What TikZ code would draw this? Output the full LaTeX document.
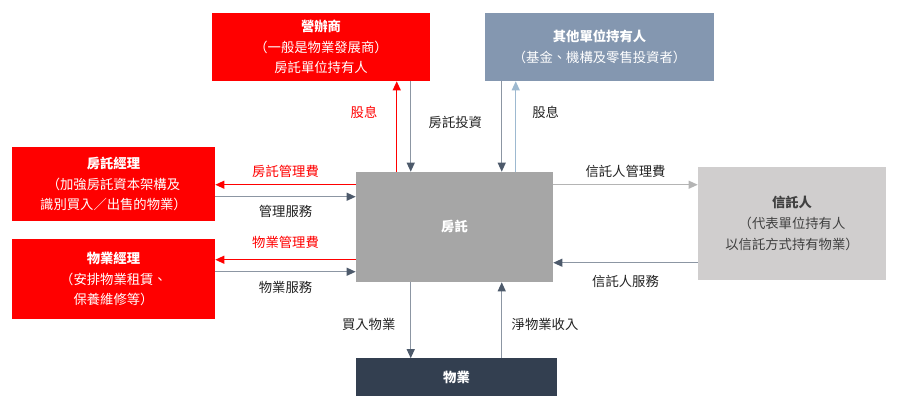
\documentclass[tikz,border=0pt]{standalone}
\usepackage{fontspec}
\setmainfont{Noto Sans CJK TC}
\usetikzlibrary{positioning,arrows.meta,calc}
\definecolor{reitred}{HTML}{FF0000}
\definecolor{slatefill}{HTML}{8497B0}
\definecolor{reitgray}{HTML}{A6A6A6}
\definecolor{trustgray}{HTML}{D0CECE}
\definecolor{propnavy}{HTML}{333F50}
\definecolor{flowline}{HTML}{8C96A3}
\definecolor{flowhead}{HTML}{4D5A6B}
\definecolor{flowblue}{HTML}{9DB9D0}
\definecolor{flowlight}{HTML}{B4B4B4}
\definecolor{trusttext}{HTML}{404040}
\definecolor{labtext}{HTML}{222222}

\begin{document}
\begin{tikzpicture}[
  x=0.75pt, y=-0.75pt,
  ebox/.style={align=center, inner sep=2pt, font=\fontsize{10}{15.5}\selectfont, text=white},
  redbox/.style={ebox, fill=reitred},
  slatebox/.style={ebox, fill=slatefill},
  reitbox/.style={ebox, fill=reitgray},
  trustbox/.style={ebox, fill=trustgray, text=trusttext},
  propbox/.style={ebox, fill=propnavy},
  flow/.style={-{Triangle[length=2.4mm, width=2.1mm, color=flowhead]}, draw=flowline, line width=1pt},
  flowred/.style={flow, -{Triangle[length=2.4mm, width=2.1mm, color=reitred]}, draw=reitred},
  flowblue/.style={flow, -{Triangle[length=2.4mm, width=2.1mm, color=flowblue]}, draw=flowblue},
  flowlight/.style={flow, -{Triangle[length=2.4mm, width=2.1mm, color=flowlight]}, draw=flowlight},
  lab/.style={font=\fontsize{10}{12}\selectfont, text=labtext, inner sep=1pt},
  labred/.style={lab, text=reitred}
]
\useasboundingbox (0,0) rectangle (904,413);

% parties
\node[redbox, minimum width=163.5pt, minimum height=51pt] (sponsor) at (321,47)
  {\textbf{營辦商}\\（一般是物業發展商）\\房託單位持有人};
\node[slatebox, minimum width=171.75pt, minimum height=51pt] (others) at (599.5,47)
  {\textbf{其他單位持有人}\\（基金、機構及零售投資者）};
\node[redbox, minimum width=152.25pt, minimum height=55.5pt] (rmgr) at (113.5,184)
  {\textbf{房託經理}\\（加強房託資本架構及\\識別買入／出售的物業）};
\node[redbox, minimum width=152.25pt, minimum height=60pt] (pmgr) at (113.5,279)
  {\textbf{物業經理}\\（安排物業租賃、\\保養維修等）};
\node[reitbox, minimum width=147.75pt, minimum height=82.5pt] (reit) at (454.5,227) {\textbf{房託}};
\node[trustbox, minimum width=141pt, minimum height=84.75pt] (trustee) at (792,223.5)
  {\textbf{信託人}\\（代表單位持有人\\以信託方式持有物業）};
\node[propbox, minimum width=150.75pt, minimum height=28.5pt] (prop) at (456.5,377.5) {\textbf{物業}};

% anchor points on the REIT box
\path (reit.north west) ++(41,0)  coordinate (d1)
      (reit.north west) ++(55,0)  coordinate (i1)
      (reit.north west) ++(146,0) coordinate (i2)
      (reit.north west) ++(160,0) coordinate (d2)
      (reit.north west) ++(0,13)  coordinate (f1)
      (reit.north west) ++(0,25)  coordinate (s1)
      (reit.north west) ++(0,88)  coordinate (f2)
      (reit.north west) ++(0,100) coordinate (s2)
      (reit.north east) ++(0,13)  coordinate (t1)
      (reit.north east) ++(0,91)  coordinate (t2);

% unitholders
\draw[flowred] (d1) -- (d1 |- sponsor.south) node[labred, pos=0.66, left=13pt] {股息};
\draw[flow] (i1 |- sponsor.south) -- (i1) node[lab, pos=0.45, right=12pt] {房託投資};
\draw[flow] (i2 |- others.south) -- (i2);
\draw[flowblue] (d2) -- (d2 |- others.south) node[lab, pos=0.66, right=11pt] {股息};

% managers
\draw[flowred] (f1) -- (f1 -| rmgr.east) node[labred, midway, above=4pt] {房託管理費};
\draw[flow] (s1 -| rmgr.east) -- (s1) node[lab, midway, below=5pt] {管理服務};
\draw[flowred] (f2) -- (f2 -| pmgr.east) node[labred, midway, above=7pt] {物業管理費};
\draw[flow] (s2 -| pmgr.east) -- (s2) node[lab, midway, below=6pt] {物業服務};

% trustee
\draw[flowlight] (t1) -- (t1 -| trustee.west) node[lab, midway, above=4pt] {信託人管理費};
\draw[flow] (t2 -| trustee.west) -- (t2) node[lab, midway, below=8pt] {信託人服務};

% properties
\draw[flow] (i1 |- reit.south) -- (i1 |- prop.north) node[lab, pos=0.56, left=10pt] {買入物業};
\draw[flow] (i2 |- prop.north) -- (i2 |- reit.south) node[lab, pos=0.44, right=6pt] {淨物業收入};
\end{tikzpicture}
\end{document}
